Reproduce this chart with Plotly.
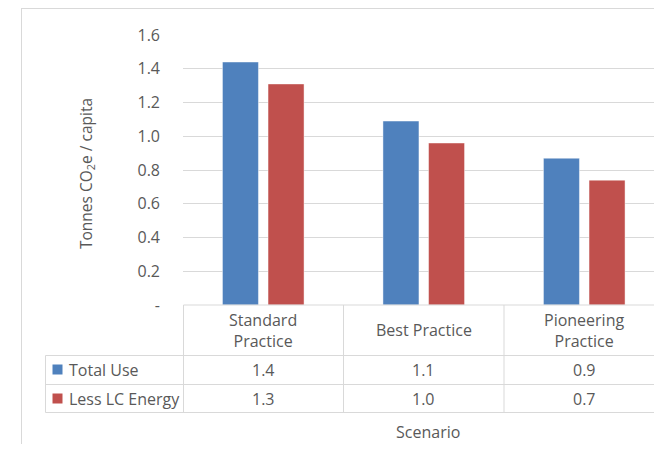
import plotly.graph_objects as go

categories = ["Standard Practice", "Best Practice", "Pioneering Practice"]
category_labels = ["Standard<br>Practice", "Best Practice", "Pioneering<br>Practice"]
series_names = ["Total Use", "Less LC Energy"]
total_use = [1.44, 1.09, 0.87]
less_lc_energy = [1.31, 0.96, 0.74]
tick_vals = [0, 0.2, 0.4, 0.6, 0.8, 1.0, 1.2, 1.4, 1.6]
tick_text = ["-", "0.2", "0.4", "0.6", "0.8", "1.0", "1.2", "1.4", "1.6"]
colors = ["#4f81bd", "#c0504d"]

OFF = 8  # page body margin
W, H = 662 - OFF, 452 - 2 * OFF
L, R, T, B = 183 - OFF, 0, 35 - OFF, H - (305 - OFF)
PW, PH = W - L - R, H - T - B
CAT_W = 160.5
FONT = "Open Sans"
TXT = "#595959"
GRID = "#d9d9d9"


def px(x):
    return (x - OFF - L) / PW


def py(y):
    return (H - B - (y - OFF)) / PH


fig = go.Figure()
for name, vals, col in zip(series_names, [total_use, less_lc_energy], colors):
    fig.add_trace(go.Bar(
        x=categories, y=vals, name=name,
        marker=dict(color=col, line=dict(color="rgba(255,255,255,0.45)", width=1)),
    ))

shapes = []
# chart outer border
shapes.append(dict(type="line", xref="paper", yref="paper", x0=px(21), x1=px(700), y0=py(8.5), y1=py(8.5),
                   line=dict(color=GRID, width=1)))
shapes.append(dict(type="line", xref="paper", yref="paper", x0=px(21.5), x1=px(21.5), y0=py(8.5), y1=py(470),
                   line=dict(color=GRID, width=1)))
# table horizontal lines
shapes.append(dict(type="line", xref="paper", yref="paper", x0=px(183.5), x1=px(700), y0=py(305), y1=py(305),
                   line=dict(color=GRID, width=1)))
for yy in [355.5, 384.5, 412.5]:
    shapes.append(dict(type="line", xref="paper", yref="paper", x0=px(45.5), x1=px(700), y0=py(yy), y1=py(yy),
                       line=dict(color=GRID, width=1)))
# table vertical lines
shapes.append(dict(type="line", xref="paper", yref="paper", x0=px(45.5), x1=px(45.5), y0=py(355.5), y1=py(412.5),
                   line=dict(color=GRID, width=1)))
shapes.append(dict(type="line", xref="paper", yref="paper", x0=px(183.5), x1=px(183.5), y0=py(305), y1=py(412.5),
                   line=dict(color=GRID, width=1)))
for i in range(1, len(categories)):
    shapes.append(dict(type="line", xref="x", yref="paper", x0=i - 0.5, x1=i - 0.5, y0=py(305), y1=py(412.5),
                       line=dict(color=GRID, width=1)))
# legend keys
for yc, col in zip([369.5, 398.5], colors):
    shapes.append(dict(type="rect", xref="paper", yref="paper", x0=px(52.5), x1=px(62.5), y0=py(yc - 5), y1=py(yc + 5),
                       fillcolor=col, line=dict(width=0)))

ann = []
for name, yc in zip(series_names, [369.5, 398.5]):
    ann.append(dict(text=name, xref="paper", yref="paper", x=px(67), y=py(yc), xanchor="left", yanchor="middle",
                    showarrow=False, font=dict(family=FONT, size=16, color=TXT)))
for i, lab in enumerate(category_labels):
    ann.append(dict(text=lab, xref="x", yref="paper", x=i, y=py(330), xanchor="center", yanchor="middle",
                    showarrow=False, font=dict(family=FONT, size=16, color=TXT)))
    ann.append(dict(text=f"{total_use[i]:.1f}", xref="x", yref="paper", x=i, y=py(369.5), xanchor="center",
                    yanchor="middle", showarrow=False, font=dict(family=FONT, size=16, color=TXT)))
    ann.append(dict(text=f"{less_lc_energy[i]:.1f}", xref="x", yref="paper", x=i, y=py(398.5), xanchor="center",
                    yanchor="middle", showarrow=False, font=dict(family=FONT, size=16, color=TXT)))
ann.append(dict(text="Scenario", xref="paper", yref="paper", x=px(428), y=py(432), xanchor="center", yanchor="middle",
                showarrow=False, font=dict(family=FONT, size=16, color=TXT)))
ann.append(dict(text="Tonnes CO<sub>2</sub>e / capita", xref="paper", yref="paper", x=px(86), y=py(174),
                xanchor="center", yanchor="middle", textangle=-90, showarrow=False,
                font=dict(family=FONT, size=15.5, color=TXT)))

fig.update_layout(
    width=W, height=H,
    margin=dict(l=L, r=R, t=T, b=B),
    paper_bgcolor="white", plot_bgcolor="white",
    barmode="group", bargap=0.432, bargroupgap=0.21,
    showlegend=False,
    shapes=shapes, annotations=ann,
    font=dict(family=FONT, size=16, color=TXT),
    xaxis=dict(range=[-0.5, -0.5 + PW / CAT_W], showticklabels=False, showgrid=False, zeroline=False,
               showline=False, ticks="", fixedrange=True),
    yaxis=dict(range=[0, 1.6], tickvals=tick_vals, ticktext=tick_text, showgrid=True, gridcolor=GRID,
               gridwidth=1, zeroline=False, showline=False, ticks="", ticklabelstandoff=22,
               tickfont=dict(family=FONT, size=16, color=TXT), fixedrange=True),
)

fig.write_html("out.html")
